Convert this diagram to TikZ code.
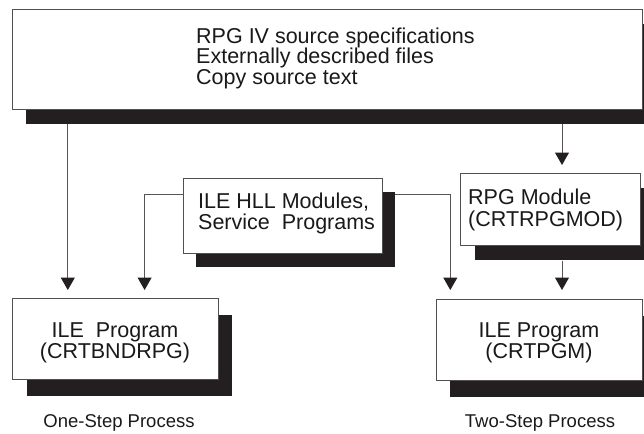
\documentclass[tikz,border=0pt]{standalone}
\usepackage{fontspec}
\setmainfont{Liberation Sans}
\usetikzlibrary{arrows.meta,shadows}
\definecolor{linec}{RGB}{85,85,85}
\definecolor{boxc}{RGB}{80,80,80}
\definecolor{shadowc}{RGB}{35,31,32}
\definecolor{txtc}{RGB}{25,25,25}
\begin{document}
\begin{tikzpicture}[x=1pt,y=1pt,
  panel/.style={draw=boxc, line width=1pt, fill=white, inner sep=0pt, anchor=north west},
  sh/.style 2 args={drop shadow={shadow xshift=#1pt, shadow yshift=#2pt, fill=shadowc, opacity=1}},
  txt/.style={inner sep=0pt, text=txtc, font=\fontsize{21.5}{21.5}\selectfont},
  lbl/.style={inner sep=0pt, text=txtc, font=\fontsize{18.5}{20}\selectfont, anchor=north},
  conn/.style={draw=linec, line width=1pt, -{Triangle[width=14pt,length=12.5pt,color=shadowc,fill=shadowc]}}
]
\useasboundingbox (0,0) rectangle (644,-433);

% boxes
\node[panel, sh={13.3}{-14.3}, minimum width=630pt, minimum height=100pt] (src) at (11.7,-9) {};
\node[panel, sh={12.5}{-13.5}, minimum width=199pt, minimum height=74.4pt] (hll) at (183.3,-178.3) {};
\node[panel, sh={14.5}{-14.5}, minimum width=180pt, minimum height=71.7pt] (rpg) at (460,-173.3) {};
\node[panel, sh={13.7}{-16}, minimum width=205.7pt, minimum height=81pt] (lile) at (12.3,-298.3) {};
\node[panel, sh={13.7}{-16}, minimum width=205.7pt, minimum height=81pt] (rile) at (436,-299) {};

% texts
\node[txt, anchor=north west, align=left, font=\fontsize{21.5}{20.7}\selectfont] (srctext) at (196,-27.5)
  {RPG IV source specifications\\Externally described files\\Copy source text};
\node[txt, anchor=north west, align=left] (hlltext) at (198,-192.5)
  {ILE HLL Modules,\\Service\ \ Programs};
\node[txt, anchor=north west, align=left] (rpgtext) at (468,-189)
  {RPG Module\\(CRTRPGMOD)};
\node[txt, anchor=north, align=center] (liletext) at (115,-322.5)
  {ILE\ \ Program\\(CRTBNDRPG)};
\node[txt, anchor=north, align=center] (riletext) at (539,-322.5)
  {ILE Program\\(CRTPGM)};
\node[lbl] (onestep) at (119,-414) {One-Step Process};
\node[lbl] (twostep) at (540,-414) {Two-Step Process};

% connector columns
\coordinate (x1) at (67.8,0);
\coordinate (x2) at (144.6,0);
\coordinate (x3) at (450.3,0);
\coordinate (x4) at (562,0);

\draw[conn, shorten <=14.3pt, shorten >=8.3pt] (src.south -| x1) -- (lile.north -| x1);
\draw[conn, shorten >=8.3pt] ([yshift=-16.3pt]hll.north west) -| (lile.north -| x2);
\draw[conn, shorten >=9pt] ([xshift=12pt,yshift=-16.3pt]hll.north east) -| (rile.north -| x3);
\draw[conn, shorten <=14.3pt, shorten >=8.3pt] (src.south -| x4) -- (rpg.north -| x4);
\draw[conn, shorten <=14.5pt, shorten >=9pt] (rpg.south -| x4) -- (rile.north -| x4);
\end{tikzpicture}
\end{document}
